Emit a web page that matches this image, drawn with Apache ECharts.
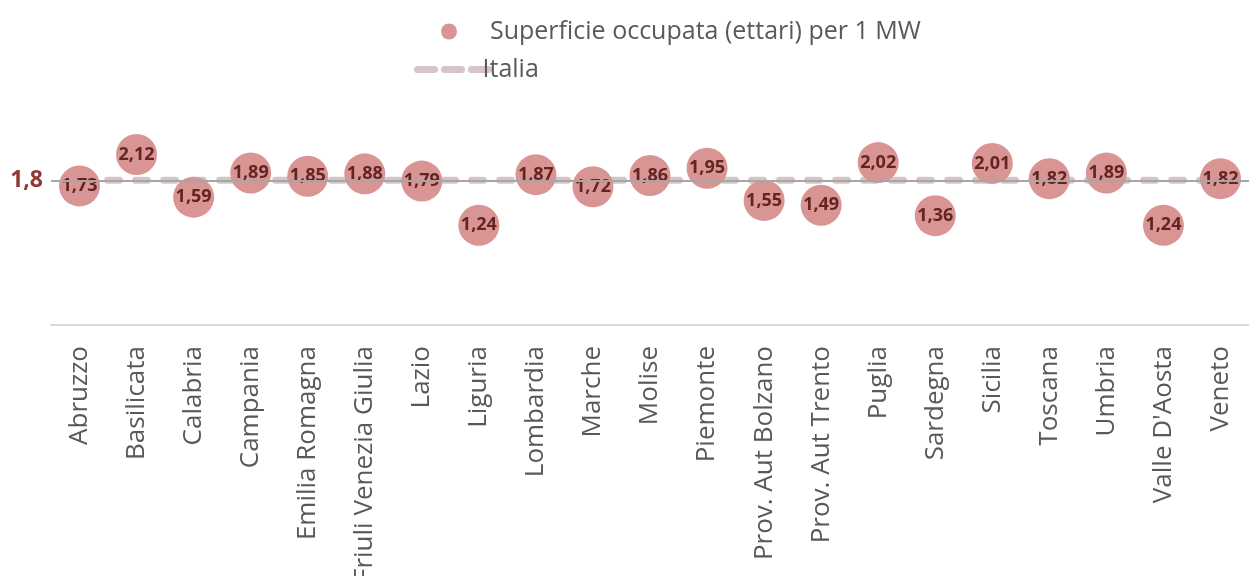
<!DOCTYPE html>
<html>
<head>
<meta charset="utf-8">
<script src="https://cdn.jsdelivr.net/npm/echarts@6/dist/echarts.min.js"></script>
<style>
  html, body { margin: 0; padding: 0; background: #fff; }
  #main { width: 1249px; height: 576px; }
</style>
</head>
<body>
<div id="main"></div>
<script>
// regioni e superficie occupata per 1 MW
const regions = ['Abruzzo', 'Basilicata', 'Calabria', 'Campania', 'Emilia Romagna',
  'Friuli Venezia Giulia', 'Lazio', 'Liguria', 'Lombardia', 'Marche', 'Molise',
  'Piemonte', 'Prov. Aut Bolzano', 'Prov. Aut Trento', 'Puglia', 'Sardegna',
  'Sicilia', 'Toscana', 'Umbria', "Valle D'Aosta", 'Veneto'];
const superficie = [1.73, 2.12, 1.59, 1.89, 1.85, 1.88, 1.79, 1.24, 1.87, 1.72, 1.86,
  1.95, 1.55, 1.49, 2.02, 1.36, 2.01, 1.82, 1.89, 1.24, 1.82];
const italiaValue = 1.8;
const italia = regions.map(() => italiaValue);

const fmt = (v) => v.toFixed(2).replace('.', ',');

let myChart = echarts.init(document.getElementById('main'));
myChart.setOption({
  animation: false,
  textStyle: { fontFamily: 'Open Sans' },
  legend: [
    {
      data: ['Superficie occupata (ettari) per 1 MW'],
      left: 436,
      top: 14,
      itemWidth: 72,
      itemHeight: 16,
      textStyle: { fontSize: 25, color: '#595959', fontFamily: 'Open Sans' },
    },
    {
      data: ['Italia'],
      left: 409,
      top: 52,
      itemWidth: 72,
      itemHeight: 16,
      itemStyle: { opacity: 0 },
      lineStyle: { color: '#D5C5C6', width: 7, type: [17, 10], cap: 'round' },
      textStyle: { fontSize: 25, color: '#595959', fontFamily: 'Open Sans', padding: [0, 0, 0, -12] },
    },
  ],
  grid: { left: 51, right: 0, top: 124, bottom: 251, outerBoundsMode: 'none', containLabel: false },
  xAxis: {
    type: 'category',
    data: regions,
    axisLine: { lineStyle: { color: '#D9D9D9', width: 2 } },
    axisTick: { show: false },
    axisLabel: {
      rotate: 90,
      interval: 0,
      margin: 21,
      fontSize: 26,
      color: '#595959',
      fontFamily: 'Open Sans',
    },
  },
  yAxis: {
    type: 'value',
    min: 0,
    max: 2.5,
    show: false,
  },
  series: [
    {
      name: 'Italia',
      type: 'line',
      data: italia,
      symbol: 'none',
      z: 1,
      lineStyle: { color: '#D5C5C6', width: 7, type: [12, 16], cap: 'round' },
      itemStyle: { color: '#D5C5C6' },
    },
    {
      name: 'Superficie occupata (ettari) per 1 MW',
      type: 'scatter',
      data: superficie,
      symbolSize: 41,
      z: 3,
      itemStyle: { color: '#D99594', opacity: 1 },
      label: {
        show: true,
        position: 'inside',
        formatter: (p) => fmt(p.value),
        color: '#632523',
        fontWeight: 'bold',
        fontSize: 18,
        fontFamily: 'Open Sans',
      },
      markLine: {
        silent: true,
        symbol: 'none',
        z: 6,
        lineStyle: { color: '#A6A6A6', width: 2, type: 'solid' },
        label: {
          show: true,
          position: 'start',
          distance: 8,
          formatter: fmt(italiaValue).replace(/0$/, ''),
          color: '#943634',
          fontWeight: 'bold',
          fontSize: 23,
          fontFamily: 'Open Sans',
        },
        data: [{ yAxis: italiaValue }],
      },
    },
  ],
});
</script>
</body>
</html>
